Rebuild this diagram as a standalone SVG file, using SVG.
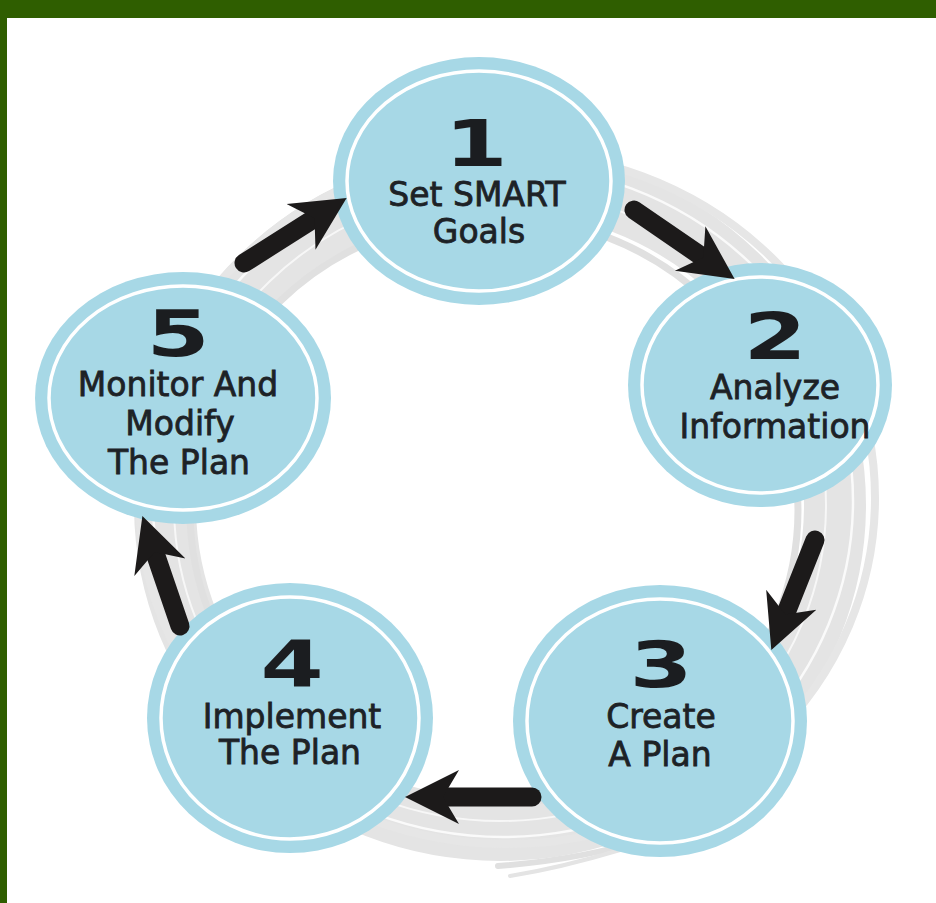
<svg xmlns="http://www.w3.org/2000/svg" width="936" height="903" viewBox="0 0 936 903">
  <defs>
    <style>
      .disc { fill: #a7d8e6; }
      .ring { fill: none; stroke: #ffffff; stroke-width: 3.5; }
      .num { font-family: "DejaVu Sans", "Liberation Sans", sans-serif; font-weight: bold; font-size: 64px; fill: #1b1d20; text-anchor: middle; }
      .lbl { font-family: "DejaVu Sans", "Liberation Sans", sans-serif; font-size: 33px; fill: #1d2226; stroke: #1d2226; stroke-width: 0.8; text-anchor: middle; }
      .shaft { fill: none; stroke: #1c1a1a; stroke-width: 19; stroke-linecap: round; }
      .swirl { fill: none; stroke-linecap: round; }
    </style>
    <marker id="head" viewBox="0 0 54 58" markerWidth="54" markerHeight="58" refX="24" refY="29" orient="auto" markerUnits="userSpaceOnUse">
      <path d="M54,29 L0,2 L16,29 L0,56 Z" fill="#1c1a1a"/>
    </marker>
  </defs>

  <rect x="0" y="0" width="936" height="903" fill="#2f5e00"/>
  <rect x="7" y="18" width="929" height="885" fill="#ffffff"/>

  <g id="swirl" class="swirl">
    <ellipse cx="500" cy="505" rx="335" ry="325" stroke="#e4e4e4" stroke-width="62"/>
    <ellipse cx="507" cy="498" rx="368" ry="346" stroke="#e6e6e6" stroke-width="8"/>
    <ellipse cx="494" cy="510" rx="304" ry="294" stroke="#e0e0e0" stroke-width="7"/>
    <ellipse cx="500" cy="505" rx="326" ry="316" stroke="#ffffff" stroke-width="2" opacity="0.7"/>
    <ellipse cx="503" cy="501" rx="350" ry="336" stroke="#ffffff" stroke-width="2.5" opacity="0.8"/>
    <path d="M650,838 Q580,860 498,866" stroke="#e0e0e0" stroke-width="6"/>
    <path d="M620,850 Q560,868 510,876" stroke="#e4e4e4" stroke-width="4"/>
  </g>

  <g id="node1">
    <ellipse class="disc" cx="479" cy="181" rx="146" ry="124"/>
    <ellipse class="ring" cx="479" cy="181" rx="132" ry="110"/>
    <text class="num" transform="translate(476,166) scale(1.42,1)">1</text>
    <text class="lbl" x="477" y="206">Set SMART</text>
    <text class="lbl" x="479" y="243">Goals</text>
  </g>

  <g id="node2">
    <ellipse class="disc" cx="760" cy="385" rx="132" ry="122"/>
    <ellipse class="ring" cx="760" cy="385" rx="118" ry="108"/>
    <text class="num" transform="translate(775,359) scale(1.42,1)">2</text>
    <text class="lbl" x="775" y="399">Analyze</text>
    <text class="lbl" x="775" y="438">Information</text>
  </g>

  <g id="node3">
    <ellipse class="disc" cx="660" cy="721" rx="147" ry="136"/>
    <ellipse class="ring" cx="660" cy="721" rx="133" ry="122"/>
    <text class="num" transform="translate(661,687) scale(1.42,1)">3</text>
    <text class="lbl" x="661" y="728">Create</text>
    <text class="lbl" x="660" y="766">A Plan</text>
  </g>

  <g id="node4">
    <ellipse class="disc" cx="290" cy="718" rx="143" ry="135"/>
    <ellipse class="ring" cx="290" cy="718" rx="129" ry="121"/>
    <text class="num" transform="translate(292,687) scale(1.42,1)">4</text>
    <text class="lbl" x="292" y="728">Implement</text>
    <text class="lbl" x="290" y="764">The Plan</text>
  </g>

  <g id="node5">
    <ellipse class="disc" cx="183" cy="398" rx="148" ry="126"/>
    <ellipse class="ring" cx="183" cy="398" rx="134" ry="112"/>
    <text class="num" transform="translate(178,356) scale(1.42,1)">5</text>
    <text class="lbl" x="178" y="396">Monitor And</text>
    <text class="lbl" x="180" y="435">Modify</text>
    <text class="lbl" x="179" y="474">The Plan</text>
  </g>

  <g id="connectors">
    <line class="shaft" x1="244" y1="263" x2="321.3" y2="214" marker-end="url(#head)"/>
    <line class="shaft" x1="634" y1="210" x2="709.9" y2="262.1" marker-end="url(#head)"/>
    <line class="shaft" x1="815" y1="540" x2="782.4" y2="622" marker-end="url(#head)"/>
    <line class="shaft" x1="532" y1="797" x2="435" y2="797" marker-end="url(#head)"/>
    <line class="shaft" x1="180" y1="626" x2="152.1" y2="544.5" marker-end="url(#head)"/>
  </g>
</svg>
